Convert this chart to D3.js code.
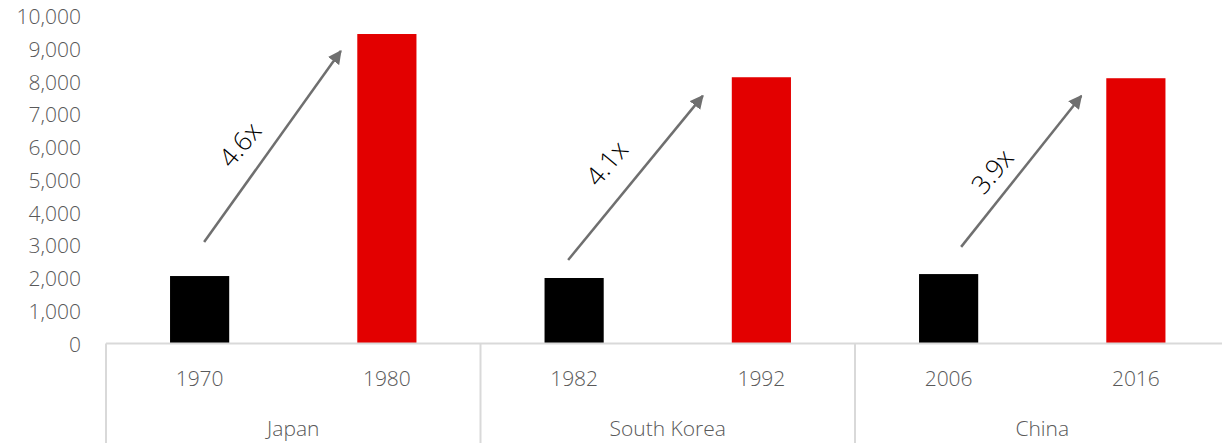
<!DOCTYPE html>
<html>
<head>
<meta charset="utf-8">
<script src="https://cdn.jsdelivr.net/npm/d3@7"></script>
<style>
  html, body { margin: 0; padding: 0; background: #fff; }
  svg { display: block; }
  .tick-label { font-family: "Open Sans", "Lato", "DejaVu Sans", sans-serif; font-weight: 300; fill: #595959; font-size: 21px; }
  .ratio { font-family: "Open Sans", "Lato", "DejaVu Sans", sans-serif; font-weight: 300; fill: #000; font-size: 26px; }
</style>
</head>
<body>
<svg id="chart" width="1222" height="443"></svg>
<script>
// Countries and the two years compared for each
const countries = ["Japan", "South Korea", "China"];
const startYears = ["1970", "1982", "2006"];
const endYears = ["1980", "1992", "2016"];
// Values at the start and end year of each decade
const startValues = [2060, 2000, 2120];
const endValues = [9450, 8130, 8100];
// Growth multiples shown on the arrows
const ratioLabels = ["4.6x", "4.1x", "3.9x"];
// Arrow tail / head heights, in data units
const arrowFrom = [3100, 2550, 2950];
const arrowTo = [8930, 7560, 7560];
// Y axis ticks
const yTicks = [0, 1000, 2000, 3000, 4000, 5000, 6000, 7000, 8000, 9000, 10000];

const svg = d3.select("#chart");
const plotLeft = 106, plotRight = 1229.5, plotBottom = 343.5, plotTop = 16;

// One band per year, grouped by country
const bars = [];
countries.forEach((c, i) => {
  bars.push({ key: c + "|" + startYears[i], year: startYears[i], value: startValues[i], kind: "start", group: i });
  bars.push({ key: c + "|" + endYears[i], year: endYears[i], value: endValues[i], kind: "end", group: i });
});

const x = d3.scaleBand().domain(bars.map(d => d.key)).range([plotLeft, plotRight]).paddingInner(0.684).paddingOuter(0.342);
const xGroup = d3.scaleBand().domain(countries).range([plotLeft, plotRight]);
const y = d3.scaleLinear().domain([0, 10000]).range([plotBottom, plotTop]);

// Y tick labels (no axis line)
const yAxis = d3.axisLeft(y).tickValues(yTicks).tickFormat(d3.format(",")).tickSize(0).tickPadding(0);
const gy = svg.append("g").attr("transform", "translate(81,0)").call(yAxis);
gy.select(".domain").remove();
gy.attr("font-size", null).attr("font-family", null);
gy.selectAll("text").attr("class", "tick-label").attr("dy", "0.36em").attr("fill", null);

// Bars
svg.append("g").selectAll("rect").data(bars).join("rect")
  .attr("x", d => x(d.key))
  .attr("width", x.bandwidth())
  .attr("y", d => y(d.value))
  .attr("height", d => y(0) - y(d.value))
  .attr("fill", d => d.kind === "start" ? "#000000" : "#e30000");

// Category axis: baseline plus group separators
const axisColor = "#d9d9d9";
svg.append("line").attr("x1", plotLeft).attr("x2", 1222).attr("y1", plotBottom).attr("y2", plotBottom)
  .attr("stroke", axisColor).attr("stroke-width", 2);
const seps = countries.map(c => xGroup(c)).concat([plotRight]);
svg.append("g").selectAll("line").data(seps).join("line")
  .attr("x1", d => d).attr("x2", d => d)
  .attr("y1", plotBottom).attr("y2", 443)
  .attr("stroke", axisColor).attr("stroke-width", 2);

// Year labels
svg.append("g").selectAll("text").data(bars).join("text")
  .attr("class", "tick-label")
  .attr("x", d => x(d.key) + x.bandwidth() / 2)
  .attr("y", 378)
  .attr("dy", "0.36em")
  .attr("text-anchor", "middle")
  .text(d => d.year);

// Country labels
svg.append("g").selectAll("text").data(countries).join("text")
  .attr("class", "tick-label")
  .attr("x", d => xGroup(d) + xGroup.bandwidth() / 2)
  .attr("y", 428)
  .attr("dy", "0.36em")
  .attr("text-anchor", "middle")
  .text(d => d);

// Growth arrows between the two bars of each country
const defs = svg.append("defs");
defs.append("marker")
  .attr("id", "head")
  .attr("viewBox", "0 0 10 10")
  .attr("refX", 9).attr("refY", 5)
  .attr("markerWidth", 5.5).attr("markerHeight", 5.5)
  .attr("markerUnits", "strokeWidth")
  .attr("orient", "auto")
  .append("path").attr("d", "M0,0 L10,5 L0,10 Z").attr("fill", "#6f6f6f");

const tailShift = [4.5, -6, 12.5];
const headGap = [16.5, 29, 25];
const labelT = [0.51, 0.59, 0.5];
const labelShift = [34, 41, 29];

const arrows = countries.map((c, i) => {
  const b0 = c + "|" + startYears[i], b1 = c + "|" + endYears[i];
  const x0 = x(b0) + x.bandwidth() / 2 + tailShift[i];
  const y0 = y(arrowFrom[i]);
  const x1 = x(b1) - headGap[i];
  const y1 = y(arrowTo[i]);
  return { x0, y0, x1, y1, label: ratioLabels[i], i };
});

svg.append("g").selectAll("line").data(arrows).join("line")
  .attr("x1", d => d.x0).attr("y1", d => d.y0)
  .attr("x2", d => d.x1).attr("y2", d => d.y1)
  .attr("stroke", "#6f6f6f").attr("stroke-width", 2.5)
  .attr("marker-end", "url(#head)");

// Multiples sit to the left of each arrow, rotated along it
svg.append("g").selectAll("text").data(arrows).join("text")
  .attr("class", "ratio")
  .attr("transform", d => {
    const t = labelT[d.i];
    const cx = d.x0 + (d.x1 - d.x0) * t - labelShift[d.i];
    const cy = d.y0 + (d.y1 - d.y0) * t;
    return `translate(${cx},${cy}) rotate(-50)`;
  })
  .attr("text-anchor", "middle")
  .attr("dy", "0.36em")
  .text(d => d.label);
</script>
</body>
</html>
